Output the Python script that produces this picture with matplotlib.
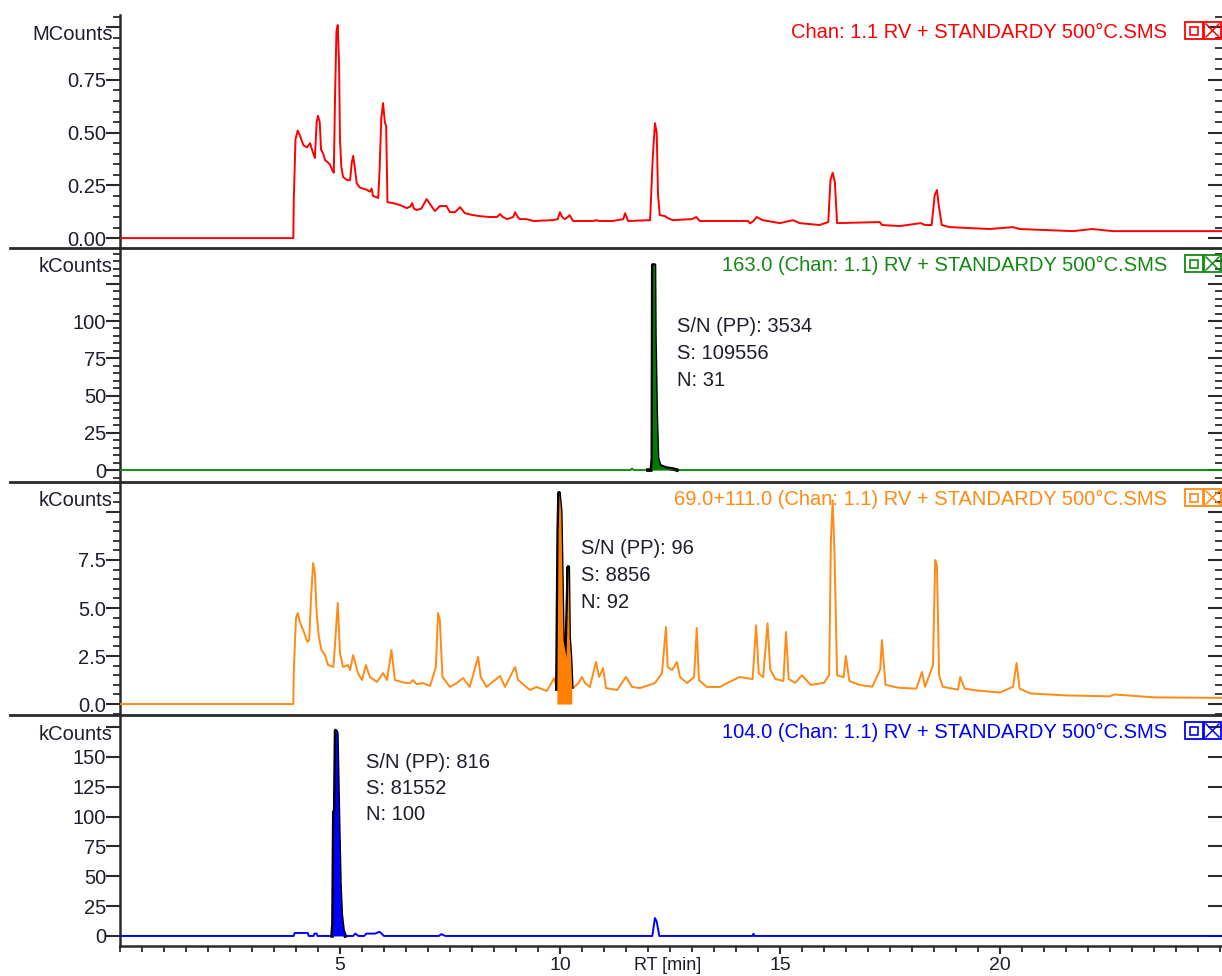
import numpy as np
import matplotlib.pyplot as plt
from matplotlib.patches import Rectangle
from matplotlib.lines import Line2D
from matplotlib.ticker import MultipleLocator

plt.rcParams['font.family'] = ['Liberation Sans', 'DejaVu Sans']

# --- data (RT in min) ---
# TIC, MCounts
rt_tic = [0, 3.94, 3.95, 3.99, 4.04, 4.10, 4.17, 4.25, 4.32, 4.38,
          4.43, 4.47, 4.50, 4.54, 4.57, 4.62, 4.66, 4.72, 4.77, 4.83,
          4.86, 4.89, 4.92, 4.95, 4.98, 5.00, 5.03, 5.07, 5.16, 5.23,
          5.27, 5.30, 5.34, 5.38, 5.45, 5.52, 5.60, 5.68, 5.72, 5.75,
          5.82, 5.87, 5.90, 5.94, 5.98, 6.02, 6.05, 6.08, 6.20, 6.36,
          6.52, 6.60, 6.64, 6.68, 6.74, 6.85, 6.97, 7.05, 7.16, 7.27,
          7.42, 7.50, 7.62, 7.73, 7.84, 8.00, 8.18, 8.40, 8.57, 8.64,
          8.70, 8.80, 8.94, 8.98, 9.04, 9.09, 9.24, 9.39, 9.84, 9.95,
          10.00, 10.05, 10.11, 10.18, 10.22, 10.30, 10.75, 10.83, 10.90, 11.20,
          11.44, 11.48, 11.55, 12.05, 12.11, 12.16, 12.20, 12.23, 12.27, 12.39,
          12.45, 12.57, 13.00, 13.10, 13.18, 14.28, 14.32, 14.40, 14.47, 14.61,
          15.00, 15.30, 15.45, 15.90, 16.10, 16.15, 16.20, 16.25, 16.30, 17.27,
          17.32, 17.73, 18.20, 18.30, 18.45, 18.52, 18.57, 18.61, 18.68, 18.86,
          19.77, 20.30, 20.45, 21.66, 22.10, 22.57, 25.05]
tic = [0, 0, 0.18, 0.47, 0.51, 0.48, 0.44, 0.43, 0.45, 0.41,
       0.38, 0.55, 0.58, 0.55, 0.42, 0.40, 0.37, 0.36, 0.35, 0.32,
       0.31, 0.69, 0.98, 1.01, 0.82, 0.47, 0.34, 0.29, 0.275, 0.275,
       0.36, 0.39, 0.33, 0.26, 0.24, 0.235, 0.23, 0.22, 0.235, 0.20,
       0.195, 0.19, 0.32, 0.57, 0.64, 0.55, 0.53, 0.17, 0.166, 0.157,
       0.142, 0.15, 0.166, 0.14, 0.133, 0.14, 0.185, 0.16, 0.128, 0.152,
       0.152, 0.123, 0.123, 0.147, 0.118, 0.11, 0.104, 0.10, 0.10, 0.114,
       0.10, 0.09, 0.10, 0.123, 0.10, 0.09, 0.09, 0.081, 0.085, 0.09,
       0.123, 0.10, 0.09, 0.10, 0.109, 0.081, 0.081, 0.085, 0.081, 0.081,
       0.09, 0.118, 0.081, 0.085, 0.38, 0.545, 0.50, 0.204, 0.109, 0.104,
       0.095, 0.085, 0.09, 0.10, 0.081, 0.081, 0.07, 0.081, 0.10, 0.085,
       0.071, 0.085, 0.071, 0.062, 0.076, 0.275, 0.31, 0.266, 0.071, 0.076,
       0.062, 0.057, 0.071, 0.062, 0.062, 0.204, 0.228, 0.157, 0.062, 0.052,
       0.043, 0.052, 0.043, 0.033, 0.043, 0.033, 0.033]

# m/z 163, kCounts
rt_163 = [0, 11.60, 11.64, 11.68, 12.00, 12.08, 12.10, 12.11, 12.15, 12.16,
          12.19, 12.22, 12.27, 12.40, 12.60, 12.66, 25.05]
ion_163 = [0, 0, 1.0, 0, 0, 0, 8, 137.6, 137.6, 90,
           38, 8, 3, 1.5, 0.5, 0, 0]
peak_163 = (12.00, 12.66)

# m/z 69+111, kCounts
rt_69 = [0, 3.94, 3.95, 4.00, 4.04, 4.09, 4.18, 4.26, 4.30, 4.34,
         4.39, 4.43, 4.47, 4.52, 4.58, 4.66, 4.73, 4.85, 4.89, 4.95,
         5.00, 5.07, 5.18, 5.23, 5.30, 5.41, 5.50, 5.59, 5.68, 5.84,
         5.98, 6.07, 6.17, 6.25, 6.40, 6.52, 6.59, 6.66, 6.74, 6.89,
         7.05, 7.18, 7.23, 7.27, 7.33, 7.50, 7.65, 7.80, 7.95, 8.14,
         8.20, 8.33, 8.64, 8.75, 8.98, 9.05, 9.32, 9.47, 9.70, 9.87,
         9.93, 9.96, 9.98, 10.02, 10.07, 10.14, 10.19, 10.21, 10.24, 10.27,
         10.30, 10.42, 10.50, 10.57, 10.68, 10.82, 10.89, 10.98, 11.05, 11.30,
         11.50, 11.64, 11.82, 12.16, 12.32, 12.41, 12.45, 12.55, 12.66, 12.73,
         12.89, 13.05, 13.11, 13.16, 13.34, 13.64, 13.80, 14.09, 14.38, 14.46,
         14.52, 14.62, 14.72, 14.78, 14.90, 15.08, 15.14, 15.20, 15.35, 15.50,
         15.70, 16.00, 16.12, 16.16, 16.20, 16.24, 16.30, 16.45, 16.50, 16.58,
         16.80, 17.10, 17.28, 17.32, 17.40, 17.70, 18.10, 18.23, 18.30, 18.48,
         18.53, 18.57, 18.62, 18.70, 19.05, 19.10, 19.20, 19.50, 20.00, 20.30,
         20.38, 20.45, 20.70, 21.50, 22.50, 22.60, 23.50, 25.05]
ion_69 = [0, 0, 1.67, 4.48, 4.74, 4.27, 3.75, 3.23, 3.33, 5.42,
          7.34, 6.82, 4.74, 3.49, 2.81, 2.55, 2.03, 1.93, 3.18, 5.26,
          2.66, 1.93, 2.03, 1.77, 2.55, 1.61, 1.25, 2.03, 1.41, 1.15,
          1.61, 1.25, 2.81, 1.25, 1.15, 1.09, 1.09, 1.25, 1.04, 1.09,
          0.94, 1.93, 4.74, 4.38, 1.41, 0.89, 1.09, 1.35, 0.89, 2.45,
          1.41, 0.89, 1.46, 0.89, 1.93, 1.25, 0.73, 0.89, 0.68, 1.35,
          0.78, 9.0, 11.0, 10.0, 3.33, 2.45, 7.14, 3.49, 2.5, 0.89,
          0.83, 1.09, 1.41, 1.09, 0.89, 2.19, 1.41, 1.87, 0.83, 0.73,
          1.41, 0.89, 0.83, 1.09, 1.61, 4.01, 1.93, 1.77, 2.19, 1.41,
          1.09, 1.41, 3.96, 1.25, 0.89, 0.89, 1.09, 1.41, 1.3, 4.1,
          1.6, 1.4, 4.2, 1.8, 1.3, 1.2, 3.75, 1.3, 1.1, 1.5,
          1.0, 1.1, 1.5, 8.5, 10.6, 8.0, 1.5, 1.4, 2.5, 1.2,
          1.0, 0.9, 1.8, 3.33, 1.0, 0.85, 0.8, 1.67, 0.9, 2.0,
          7.5, 7.2, 1.5, 0.9, 0.75, 1.41, 0.8, 0.7, 0.6, 0.9,
          2.14, 0.8, 0.55, 0.45, 0.4, 0.5, 0.35, 0.32]
peak_69 = (9.93, 10.27)

# m/z 104, kCounts
rt_104 = [0, 3.95, 3.97, 4.27, 4.29, 4.40, 4.42, 4.47, 4.49, 4.82,
          4.84, 4.86, 4.88, 4.90, 4.93, 4.95, 4.97, 5.00, 5.03, 5.07,
          5.12, 5.30, 5.35, 5.42, 5.55, 5.60, 5.80, 5.90, 6.00, 6.10,
          7.25, 7.30, 7.40, 12.10, 12.16, 12.20, 12.26, 14.38, 14.40, 14.42, 25.05]
ion_104 = [0, 0, 2.5, 2.5, 0, 0, 2.0, 2.0, 0, 0,
           10, 104, 104, 172, 170, 132, 95, 44, 18, 5,
           0, 0, 2.0, 0, 0, 2.0, 2.0, 3.5, 0, 0,
           0, 1.5, 0, 0, 15, 12, 0, 0, 1.8, 0, 0]
peak_104 = (4.82, 5.12)

titles = ["Chan: 1.1 RV + STANDARDY 500°C.SMS",
          "163.0 (Chan: 1.1) RV + STANDARDY 500°C.SMS",
          "69.0+111.0 (Chan: 1.1) RV + STANDARDY 500°C.SMS",
          "104.0 (Chan: 1.1) RV + STANDARDY 500°C.SMS"]
units = ["MCounts", "kCounts", "kCounts", "kCounts"]
sn_texts = [None,
            ["S/N (PP): 3534", "S: 109556", "N: 31"],
            ["S/N (PP): 96", "S: 8856", "N: 92"],
            ["S/N (PP): 816", "S: 81552", "N: 100"]]

# --- layout (pixels) ---
W, H = 1222, 976
X0 = 120
XMAX = 25.05
tops = [15, 248, 482, 715]
bottoms = [248, 482, 715, 946]
ylims = [(-0.047, 1.058), (-8, 149), (-0.57, 11.56), (-8.4, 185)]
majors = [[0, 0.25, 0.5, 0.75, 1.0], [0, 25, 50, 75, 100, 125],
          [0, 2.5, 5.0, 7.5, 10.0], [0, 25, 50, 75, 100, 125, 150, 175]]
labels = [["0.00", "0.25", "0.50", "0.75", ""], ["0", "25", "50", "75", "100", ""],
          ["0.0", "2.5", "5.0", "7.5", ""], ["0", "25", "50", "75", "100", "125", "150", ""]]
minors = [0.05, 5, 0.5, None]
colors = ['#ff0000', '#118a11', '#ff8a14', '#0000ff']
fills = [None, '#007a00', '#ff8000', '#0000ff']
sn_pos = [None, (677, 327), (581, 549), (366, 762)]

traces = [(rt_tic, tic, None), (rt_163, ion_163, peak_163),
          (rt_69, ion_69, peak_69), (rt_104, ion_104, peak_104)]

txt = '#1e1e2a'
axc = '#2a2a2a'

fig = plt.figure(figsize=(W / 100, H / 100), dpi=100)

for i in range(4):
    top, bot = tops[i], bottoms[i]
    ax = fig.add_axes([X0 / W, 1 - bot / H, (W - X0) / W, (bot - top) / H])
    ax.patch.set_visible(False)
    t, v, win = traces[i]
    t = np.array(t)
    v = np.array(v)
    ax.plot(t, v, color=colors[i], lw=1.4, zorder=3)
    if win is not None:
        m = (t >= win[0]) & (t <= win[1])
        ax.plot(t[m], v[m], color='black', lw=2.6, zorder=4)
        ax.fill_between(t[m], 0, v[m], color=fills[i], lw=0, zorder=5)

    ax.set_xlim(0, XMAX)
    ax.set_ylim(*ylims[i])
    ax.set_yticks(majors[i])
    ax.set_yticklabels(labels[i])
    if minors[i]:
        ax.yaxis.set_minor_locator(MultipleLocator(minors[i]))
    ax.tick_params(axis='y', which='major', length=10, width=1.5, pad=0,
                   labelsize=14.5, labelcolor=txt, color=axc)
    ax.tick_params(axis='y', which='minor', length=5, width=1.3, color=axc)

    sec = ax.secondary_yaxis('right')
    sec.set_yticks(majors[i])
    if minors[i]:
        sec.yaxis.set_minor_locator(MultipleLocator(minors[i]))
    sec.tick_params(axis='y', which='both', direction='in', labelright=False, color=axc)
    sec.tick_params(axis='y', which='major', length=10, width=1.5)
    sec.tick_params(axis='y', which='minor', length=5, width=1.3)
    sec.spines['right'].set_visible(False)

    for s in ['top', 'right']:
        ax.spines[s].set_visible(False)
    ax.spines['left'].set_linewidth(1.8)
    ax.spines['left'].set_color(axc)

    if i < 3:
        ax.spines['bottom'].set_visible(False)
        ax.set_xticks([])
        ax.plot([-0.1, 1], [0, 0], transform=ax.transAxes, clip_on=False,
                color=axc, lw=2.0, zorder=6)
    else:
        ax.spines['bottom'].set_linewidth(1.8)
        ax.spines['bottom'].set_color(axc)
        ax.set_xticks([5, 10, 15, 20])
        ax.xaxis.set_minor_locator(MultipleLocator(0.5))
        ax.tick_params(axis='x', which='major', length=6, width=1.5, pad=2,
                       labelsize=14, labelcolor=txt, color=axc)
        ax.tick_params(axis='x', which='minor', length=4, width=1.3, color=axc)
        fig.text(668 / W, 1 - 965 / H, "RT [min]", ha='center', va='center',
                 fontsize=13, color=txt)

    # unit label
    fig.text(113 / W, 1 - (top + 19) / H, units[i], ha='right', va='center',
             fontsize=14.5, color=txt)
    # title
    fig.text(1167 / W, 1 - (top + 17.5) / H, titles[i], ha='right', va='center',
             fontsize=14.5, color=colors[i])
    # icons
    c = colors[i]
    y1 = 1 - (top + 24) / H
    hh = 17 / H
    fig.add_artist(Rectangle((1185 / W, y1), 18 / W, hh, transform=fig.transFigure,
                             fill=False, ec=c, lw=1.3))
    fig.add_artist(Rectangle((1190 / W, 1 - (top + 20) / H), 8 / W, 8 / H,
                             transform=fig.transFigure, fill=False, ec=c, lw=1.2))
    fig.add_artist(Rectangle((1204 / W, y1), 17 / W, hh, transform=fig.transFigure,
                             fill=False, ec=c, lw=1.3))
    fig.add_artist(Line2D([1206 / W, 1219 / W], [y1 + 2 / H, y1 + hh - 2 / H],
                          transform=fig.transFigure, color=c, lw=1.1))
    fig.add_artist(Line2D([1206 / W, 1219 / W], [y1 + hh - 2 / H, y1 + 2 / H],
                          transform=fig.transFigure, color=c, lw=1.1))

    if sn_texts[i]:
        sx, sy = sn_pos[i]
        for k, line in enumerate(sn_texts[i]):
            fig.text(sx / W, 1 - (sy + 26.5 * k) / H, line, ha='left', va='center',
                     fontsize=14.5, color=txt)

fig.savefig("out.png", dpi=100)
